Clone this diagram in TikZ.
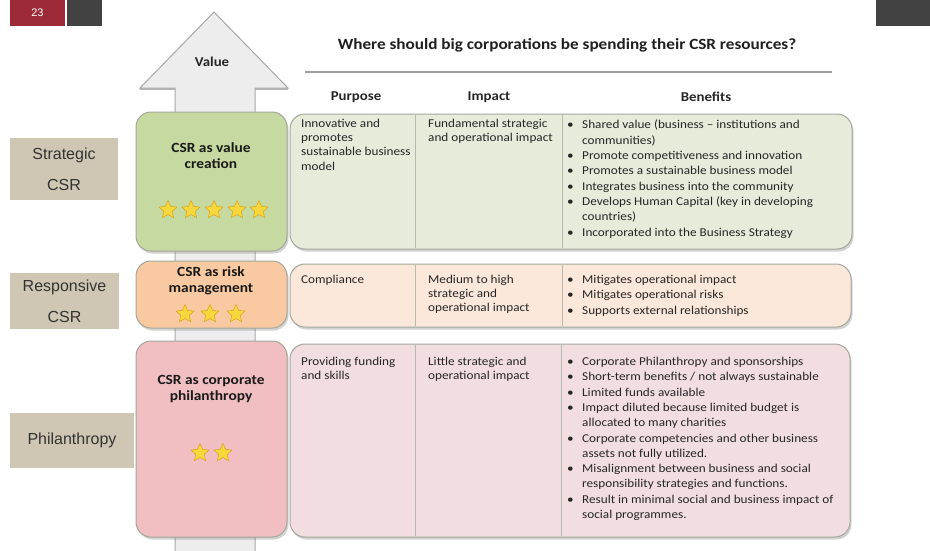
\documentclass[tikz,border=0pt]{standalone}
\usepackage{fontspec}
\setmainfont{Carlito}
\newfontfamily\tblfont[FakeStretch=1.1]{Carlito}
\newfontfamily\arialf{Liberation Sans}
\usetikzlibrary{shapes.geometric,shadows}
\definecolor{numred}{HTML}{9E2A38}
\definecolor{darkgr}{HTML}{424242}
\definecolor{tan}{HTML}{CFC7B4}
\definecolor{arrowfill}{HTML}{EDEDED}
\definecolor{arrowline}{HTML}{A8A8A8}
\definecolor{gL}{HTML}{C6D9A0}
\definecolor{gR}{HTML}{E6EBDA}
\definecolor{oL}{HTML}{F9C9A1}
\definecolor{oR}{HTML}{FBE8DA}
\definecolor{pL}{HTML}{F1BEC2}
\definecolor{pR}{HTML}{F2DEE1}
\definecolor{edge}{HTML}{A4A89A}
\definecolor{starY}{HTML}{F6D83C}
\definecolor{starE}{HTML}{D9A21E}
\newcommand\bul{\makebox[15pt][l]{\textbullet}}
\newcommand\cnt{\hspace*{15pt}}
\tikzset{
  lbl/.style={fill=tan, inner sep=0pt, align=center, font=\arialf\fontsize{16}{31}\selectfont, text=black!80},
  lbox/.style={draw=edge, line width=1pt, rounded corners=15pt,
    drop shadow={shadow xshift=1.5pt, shadow yshift=-2.5pt, opacity=0.35}},
  divline/.style={draw=edge!80, line width=0.6pt},
  ttl/.style={inner sep=0pt, anchor=north, align=center, font=\tblfont\bfseries\fontsize{14}{16}\selectfont, text=black!90},
  txt/.style={inner sep=0pt, anchor=north west, align=left, font=\tblfont\fontsize{12}{14.2}\selectfont, text=black!85},
  btxt/.style={inner sep=0pt, anchor=north west, align=left, font=\tblfont\fontsize{12}{15.3}\selectfont, text=black!85},
  hdr/.style={inner sep=0pt, font=\tblfont\bfseries\fontsize{13.5}{15}\selectfont, text=black!85},
  starnode/.style={star, star points=5, star point ratio=2.1, minimum size=19pt, inner sep=0pt, fill=starY, draw=starE, line width=0.5pt}
}
\begin{document}
\begin{tikzpicture}[x=1pt, y=-1pt]
\useasboundingbox (0,0) rectangle (930,550);
\fill[white] (0,0) rectangle (930,550);
% top corner boxes
\node[fill=numred, minimum width=55pt, minimum height=26pt, inner sep=0pt, text=white, font=\arialf\fontsize{11}{13}\selectfont] (num) at (37.5,13) {23};
\node[fill=darkgr, minimum width=35pt, minimum height=26pt, inner sep=0pt] (dk1) at (84.5,13) {};
\node[fill=darkgr, minimum width=54pt, minimum height=26pt, inner sep=0pt] (dk2) at (903,13) {};
% big arrow
\draw[arrowline, fill=arrowfill, line width=1pt] (214,12) -- (288,88) -- (255,88) -- (255,552) -- (175,552) -- (175,88) -- (140,88) -- cycle;
\draw[gray!60, line width=1.5pt] (140,89) -- (175,89) (255,89) -- (288,89);
\node[font=\tblfont\bfseries\fontsize{13.5}{15}\selectfont, text=black!85] (val) at (212,62) {Value};
% title
\node[font=\tblfont\bfseries\fontsize{15.6}{18}\selectfont, text=black!88] (title) at (567,45) {Where should big corporations be spending their CSR resources?};
\draw[gray!75, line width=2pt] (305,71.5) -- (832,71.5);
\node[hdr] (hp) at (356,97) {Purpose};
\node[hdr] (hi) at (489,97) {Impact};
\node[hdr] (hb) at (706,97) {Benefits};
% row 1
\draw[lbox, fill=gL] (136,112) rectangle (287,251);
\draw[lbox, fill=gR] (290,114) rectangle (852,249);
\draw[divline] (415,115) -- (415,248) (562,115) -- (562,248);
\node[ttl] (t1) at (211,142) {CSR as value\\creation};
\foreach \i/\xx in {1/168,2/191,3/214,4/237,5/259} \node[starnode] (s1\i) at (\xx,210) {};
\node[txt] (p1) at (301,119) {Innovative and\\promotes\\sustainable business\\model};
\node[txt] (i1) at (428,119) {Fundamental strategic\\and operational impact};
\node[btxt] (b1) at (567,120) {\bul Shared value (business – institutions and\\\cnt communities)\\\bul Promote  competitiveness and innovation\\\bul Promotes  a sustainable business model\\\bul Integrates business into the community\\\bul Develops Human  Capital (key in developing\\\cnt countries)\\\bul Incorporated  into the Business Strategy};
% row 2
\draw[lbox, fill=oL] (136,261) rectangle (287,328);
\draw[lbox, fill=oR] (290,264) rectangle (851,327);
\draw[divline] (415,265) -- (415,326) (562,265) -- (562,326);
\node[ttl] (t2) at (211,266) {CSR as risk\\management};
\foreach \i/\xx in {1/185,2/210,3/236} \node[starnode] (s2\i) at (\xx,314) {};
\node[txt] (p2) at (301,275) {Compliance};
\node[txt] (i2) at (428,275) {Medium to high\\strategic and\\operational impact};
\node[btxt] (b2) at (567,275) {\bul Mitigates operational impact\\\bul Mitigates operational risks\\\bul Supports  external relationships};
% row 3
\draw[lbox, fill=pL] (136,341) rectangle (287,537);
\draw[lbox, fill=pR] (290,344) rectangle (850,537);
\draw[divline] (415,345) -- (415,536) (561,345) -- (561,536);
\node[ttl] (t3) at (211,375) {CSR as corporate\\philanthropy};
\foreach \i/\xx in {1/200,2/223} \node[starnode] (s3\i) at (\xx,453) {};
\node[txt] (p3) at (301,357) {Providing funding\\and skills};
\node[txt] (i3) at (428,357) {Little strategic and\\operational impact};
\node[btxt] (b3) at (567,357) {\bul Corporate Philanthropy and sponsorships\\\bul Short-term  benefits / not always sustainable\\\bul Limited funds available\\\bul Impact diluted because limited budget is\\\cnt allocated to many charities\\\bul Corporate competencies and other business\\\cnt assets not fully utilized.\\\bul Misalignment between business and social\\\cnt responsibility strategies and functions.\\\bul Result in minimal  social and business impact of\\\cnt social programmes.};
% left labels
\node[lbl, minimum width=108pt, minimum height=62pt] (l1) at (64,169) {Strategic\\CSR};
\node[lbl, minimum width=109pt, minimum height=56pt] (l2) at (64.5,301) {Responsive\\CSR};
\node[lbl, minimum width=124pt, minimum height=55pt, font=\arialf\fontsize{16}{20}\selectfont] (l3) at (72,440.5) {Philanthropy};
\end{tikzpicture}
\end{document}
